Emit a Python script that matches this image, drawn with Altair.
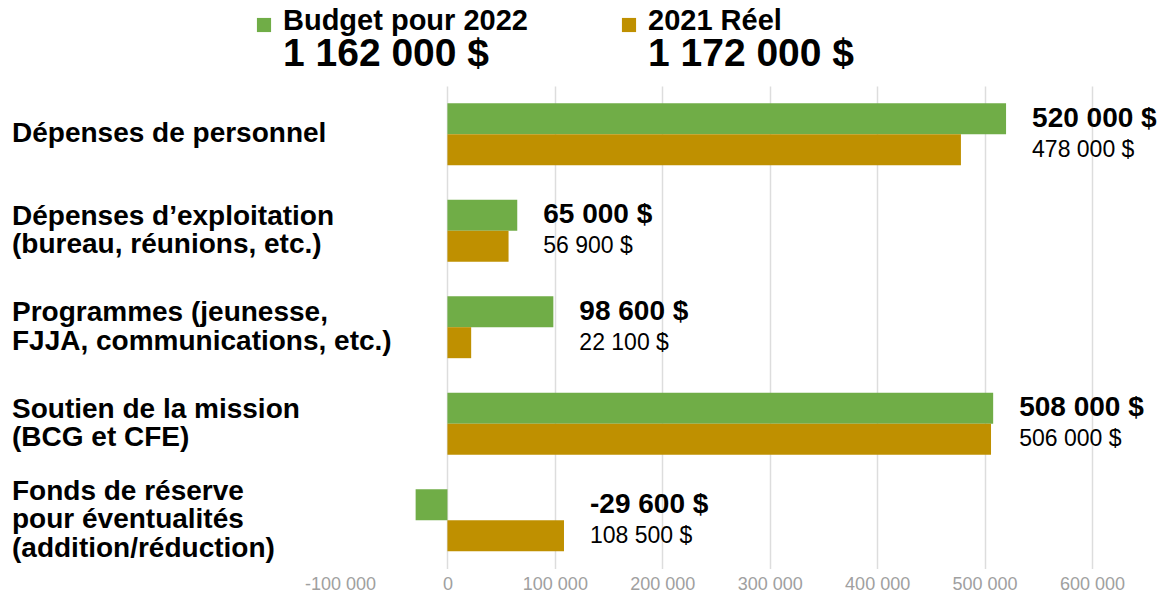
import altair as alt
import pandas as pd

# ---- data ----
categories = [
    "Dépenses de personnel",
    "Dépenses d’exploitation\n(bureau, réunions, etc.)",
    "Programmes (jeunesse,\nFJJA, communications, etc.)",
    "Soutien de la mission\n(BCG et CFE)",
    "Fonds de réserve\npour éventualités\n(addition/réduction)",
]
series = ["Budget pour 2022", "2021 Réel"]
budget_2022 = [520000, 65000, 98600, 508000, -29600]
actual_2021 = [478000, 56900, 22100, 506000, 108500]
totals = [1162000, 1172000]
colors = ["#70AD47", "#BF9000"]
x_ticks = [-100000, 0, 100000, 200000, 300000, 400000, 500000, 600000]

FONT = "Liberation Sans"
LINE_H = 28.5


def fmt(v):
    s = f"{abs(v):,}".replace(",", " ")
    return ("-" if v < 0 else "") + s + " $"


rows = []
for c, b, a in zip(categories, budget_2022, actual_2021):
    rows.append({"category": c, "series": series[0], "value": b, "label": fmt(b)})
    rows.append({"category": c, "series": series[1], "value": a, "label": fmt(a)})
df = pd.DataFrame(rows)

cat_df = pd.DataFrame({"category": categories, "nlines": [c.count("\n") + 1 for c in categories]})
legend_df = pd.DataFrame({"series": series, "total": [fmt(t) for t in totals]})

color = alt.Color("series:N", scale=alt.Scale(domain=series, range=colors), legend=None)

y_enc = alt.Y(
    "category:N",
    sort=categories,
    scale=alt.Scale(paddingInner=0.36, paddingOuter=0.18),
    axis=None,
)
yoff = alt.YOffset("series:N", sort=series, scale=alt.Scale(paddingInner=0, paddingOuter=0))

x_enc = alt.X(
    "value:Q",
    scale=alt.Scale(domain=[-100000, 600000], nice=False, zero=False),
    axis=alt.Axis(
        title=None,
        values=x_ticks,
        domain=False,
        ticks=False,
        grid=True,
        gridColor="#DDDDDD",
        gridWidth=1.5,
        gridOpacity={"condition": {"test": "datum.value < 0", "value": 0}, "value": 1},
        labelFlush=False,
        labelFont=FONT,
        labelFontSize=18,
        labelColor="#A0A0A0",
        labelPadding=7,
        labelExpr="(datum.value < 0 ? '-' : '') + replace(format(abs(datum.value), ','), ',', ' ')",
    ),
)

base = alt.Chart(df)

bars = base.mark_bar(size=31).encode(x=x_enc, y=y_enc, yOffset=yoff, color=color)

label_base = base.transform_joinaggregate(rowmax="max(value)", groupby=["category"]).encode(
    x=alt.X("rowmax:Q"), y=y_enc, yOffset=yoff, text="label:N"
)
bold_labels = label_base.transform_filter(alt.datum.series == series[0]).mark_text(
    align="left", baseline="middle", dx=26, font=FONT, fontSize=28, fontWeight="bold", color="#000000"
)
reg_labels = label_base.transform_filter(alt.datum.series == series[1]).mark_text(
    align="left", baseline="middle", dx=26, font=FONT, fontSize=23, color="#000000"
)

# category names, left-aligned, multi-line blocks centred on their row
cat_layers = []
for n in sorted(set(cat_df["nlines"])):
    cat_layers.append(
        alt.Chart(cat_df)
        .transform_filter(alt.datum.nlines == n)
        .mark_text(
            align="left",
            baseline="middle",
            lineBreak="\n",
            lineHeight=LINE_H,
            dy=-(n - 1) * LINE_H / 2,
            font=FONT,
            fontSize=28,
            fontWeight="bold",
            color="#000000",
        )
        .encode(x=alt.value(-328), y=y_enc, text="category:N")
    )

legend_layers = []
legend_x = [-76, 289]
for i, s in enumerate(series):
    ld = alt.Chart(legend_df).transform_filter(alt.datum.series == s)
    legend_layers.append(
        ld.mark_square(size=200, opacity=1).encode(
            x=alt.value(legend_x[i]), y=alt.value(-61), color=color
        )
    )
    legend_layers.append(
        ld.mark_text(
            align="left", baseline="alphabetic", font=FONT, fontSize=29, fontWeight="bold", color="#000000"
        ).encode(x=alt.value(legend_x[i] + 19), y=alt.value(-56), text="series:N")
    )
    legend_layers.append(
        ld.mark_text(
            align="left", baseline="alphabetic", font=FONT, fontSize=39, fontWeight="bold", color="#000000"
        ).encode(x=alt.value(legend_x[i] + 19), y=alt.value(-20), text="total:N")
    )

chart = (
    alt.layer(bars, bold_labels, reg_labels, *cat_layers, *legend_layers)
    .properties(
        width=752,
        height=482.5,
        autosize=alt.AutoSizeParams(type="none"),
        padding={"left": 332, "top": 78, "right": 70, "bottom": 32},
    )
    .configure_view(stroke=None)
)

chart.save("out.html", embed_options={"renderer": "svg", "actions": False})
